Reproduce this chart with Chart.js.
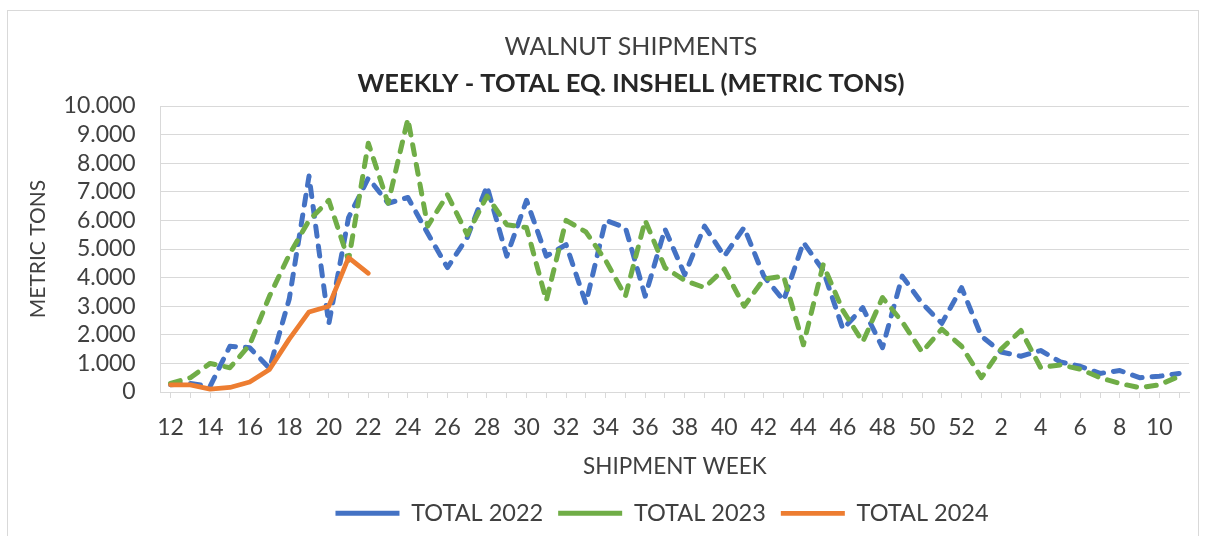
<!DOCTYPE html>
<html>
<head>
<meta charset="utf-8">
<script src="https://cdn.jsdelivr.net/npm/chart.js@4"></script>
<style>
  html, body { margin: 0; padding: 0; background: #ffffff; }
  #wrap { position: relative; width: 1209px; height: 536px; overflow: hidden; background: #fff; }
  #frame { position: absolute; left: 7px; top: 10px; width: 1192px; height: 560px; border: 1px solid #d9d9d9; box-sizing: border-box; pointer-events: none; }
  #c { position: absolute; left: 0; top: 0; }
</style>
</head>
<body>
<div id="wrap">
  <canvas id="c" width="1209" height="536"></canvas>
  <div id="frame"></div>
</div>
<script>
const weeks = ['12','13','14','15','16','17','18','19','20','21','22','23','24','25','26','27','28','29','30','31','32','33','34','35','36','37','38','39','40','41','42','43','44','45','46','47','48','49','50','51','52','1','2','3','4','5','6','7','8','9','10','11'];

const total2022 = [250,300,200,1600,1550,830,3250,7550,2380,6100,7480,6600,6800,5550,4350,5400,7200,4750,6700,4750,5150,3100,6000,5750,3350,5700,4100,5800,4750,5750,4050,3200,5230,4250,2200,2950,1550,4050,3100,2400,3650,1950,1400,1250,1450,1050,900,650,750,500,550,650];

const total2023 = [300,500,1000,850,1650,3350,4800,6000,6700,4600,8700,6600,9550,5800,6900,5500,6850,5850,5750,3200,6000,5600,4600,3350,6000,4350,3900,3650,4300,3000,3950,4050,1650,4450,2850,1750,3300,2450,1400,2200,1600,500,1500,2150,850,950,800,500,300,150,250,550];

const total2024 = [250,250,100,160,350,790,1850,2800,3000,4700,4150];

const yTicks = [0,1000,2000,3000,4000,5000,6000,7000,8000,9000,10000];

const FONT = 'Lato';
const TXT = '#404040';

function fmt(v) {
  if (v === 0) return '0';
  const s = String(Math.round(v));
  return s.replace(/\B(?=(\d{3})+(?!\d))/g, '.');
}

// nudge the title block and the legend row to where the reference centres them
const boxShift = {
  id: 'boxShift',
  afterLayout(chart) {
    const shift = (box, dx) => { if (box) { box.left += dx; box.right += dx; } };
    shift(chart.titleBlock, 23.5);
    const sub = chart.boxes.find(b => b !== chart.titleBlock && b.options && b.options.text === 'WEEKLY - TOTAL EQ. INSHELL (METRIC TONS)');
    shift(sub, 23.5);
    shift(chart.legend, 54.5);
  }
};

new Chart(document.getElementById('c'), {
  type: 'line',
  plugins: [boxShift],
  data: {
    labels: weeks,
    datasets: [
      { label: 'TOTAL 2022', data: total2022, borderColor: '#4472C4', backgroundColor: '#4472C4',
        borderWidth: 5, borderDash: [10, 10], borderCapStyle: 'round', borderJoinStyle: 'round',
        pointRadius: 0, tension: 0, order: 3 },
      { label: 'TOTAL 2023', data: total2023, borderColor: '#70AD47', backgroundColor: '#70AD47',
        borderWidth: 5, borderDash: [10, 10], borderCapStyle: 'round', borderJoinStyle: 'round',
        pointRadius: 0, tension: 0, order: 2 },
      { label: 'TOTAL 2024', data: total2024, borderColor: '#ED7D31', backgroundColor: '#ED7D31',
        borderWidth: 4.75, borderCapStyle: 'round', borderJoinStyle: 'round',
        pointRadius: 0, tension: 0, order: 1 }
    ]
  },
  options: {
    responsive: false,
    devicePixelRatio: 1,
    animation: false,
    layout: { padding: { left: 26, right: 20, top: 0, bottom: 1 } },
    plugins: {
      tooltip: { enabled: false },
      title: {
        display: true, text: 'WALNUT SHIPMENTS', color: TXT,
        font: { family: FONT, size: 25, weight: 'normal', lineHeight: 1.2 },
        padding: { top: 32, bottom: 0 }
      },
      subtitle: {
        display: true, text: 'WEEKLY - TOTAL EQ. INSHELL (METRIC TONS)', color: '#262626',
        font: { family: FONT, size: 25.5, weight: 'bold', lineHeight: 1.2 },
        padding: { top: 6.7, bottom: 6.7 }
      },
      legend: {
        position: 'bottom',
        labels: {
          color: TXT,
          font: { family: FONT, size: 23.5 },
          usePointStyle: true,
          pointStyle: 'line',
          pointStyleWidth: 64,
          boxHeight: 23,
          padding: 15,
          sort: (a, b) => a.datasetIndex - b.datasetIndex
        }
      }
    },
    scales: {
      x: {
        type: 'category',
        offset: true,
        grid: { display: true, drawOnChartArea: false, drawTicks: true, tickLength: 6, color: '#d9d9d9', offset: false, lineWidth: 1 },
        border: { display: true, color: '#d9d9d9', width: 1 },
        ticks: {
          autoSkip: false, maxRotation: 0, minRotation: 0, color: TXT, padding: 15.5,
          font: { family: FONT, size: 23 },
          callback: function(value, index) { return index % 2 === 0 ? this.getLabelForValue(value) : ''; }
        },
        title: { display: true, text: 'SHIPMENT WEEK', color: TXT, font: { family: FONT, size: 22.5 }, padding: { top: 0, bottom: 6.5 } },
        afterFit: s => { s.height = 94.5; }
      },
      y: {
        min: 0, max: 10000,
        afterBuildTicks: s => { s.ticks = yTicks.map(v => ({ value: v })); },
        grid: { color: '#d9d9d9', drawTicks: false, lineWidth: 1 },
        border: { display: true, color: '#d9d9d9', width: 1 },
        ticks: { autoSkip: false, color: TXT, padding: 25, font: { family: FONT, size: 23 }, callback: v => fmt(v) },
        title: { display: true, text: 'METRIC TONS', color: TXT, font: { family: FONT, size: 21 }, padding: { top: -0.6, bottom: 0 } },
        afterFit: s => { s.width = 134.7; }
      }
    }
  }
});
</script>
</body>
</html>
